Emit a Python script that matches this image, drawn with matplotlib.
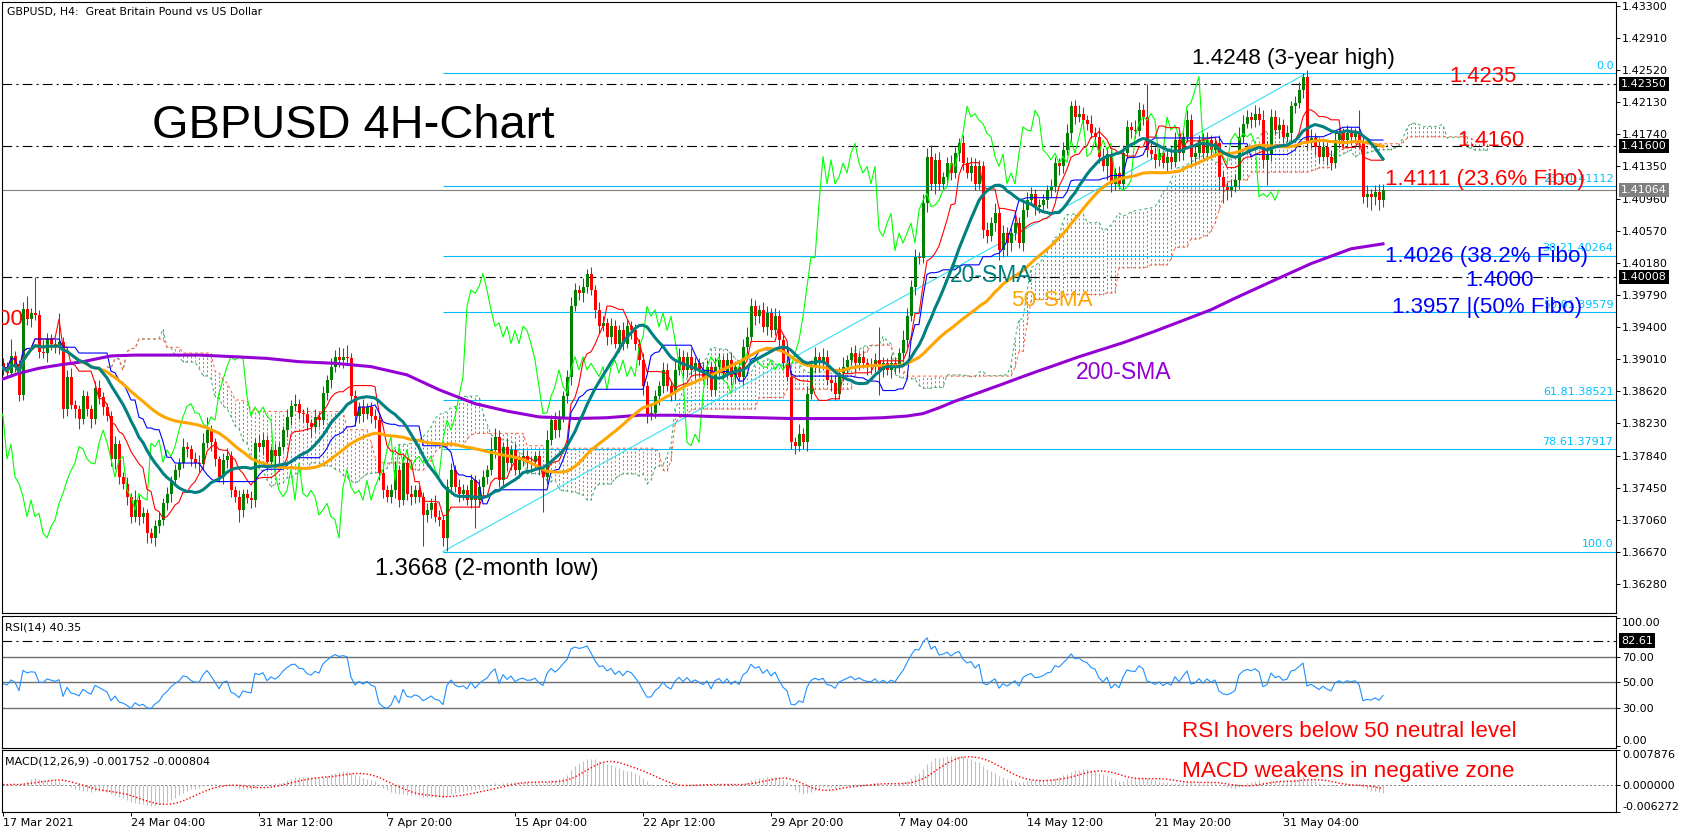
import numpy as np
import pandas as pd
import matplotlib
matplotlib.use("Agg")
import matplotlib.pyplot as plt
from matplotlib import transforms

plt.rcParams['lines.scale_dashes'] = False
plt.rcParams['font.family'] = ['DejaVu Sans']

W, H = 1686, 836

# ---------------- data (H4 bars, prices in pips above 1.3000) ----------------
first_open = 896
close_pips = [
    890, 884, 905, 895, 858, 962, 950, 957, 955, 910,
    908, 925, 920, 915, 922, 840, 880, 846, 840, 828,
    856, 840, 828, 866, 855, 843, 832, 780, 798, 758,
    750, 734, 710, 730, 710, 714, 690, 684, 698, 706,
    726, 738, 754, 766, 775, 795, 792, 780, 775, 774,
    799, 815, 800, 780, 758, 779, 783, 742, 734, 718,
    738, 733, 730, 799, 795, 803, 776, 791, 783, 795,
    815, 831, 844, 847, 836, 835, 823, 819, 831, 827,
    860, 876, 892, 904, 900, 904, 902, 856, 832, 843,
    835, 843, 832, 827, 763, 742, 734, 742, 767, 730,
    775, 738, 734, 742, 734, 712, 718, 726, 710, 706,
    684, 746, 767, 746, 738, 742, 730, 754, 730, 746,
    758, 767, 791, 807, 754, 795, 775, 791, 767, 779,
    783, 775, 776, 783, 767, 758, 803, 827, 815, 831,
    856, 880, 965, 985, 981, 989, 1005, 985, 961, 941,
    945, 928, 941, 920, 936, 920, 941, 936, 920, 900,
    868, 835, 836, 856, 868, 888, 868, 860, 888, 904,
    888, 904, 888, 896, 888, 880, 892, 864, 892, 900,
    884, 900, 880, 892, 880, 916, 928, 965, 953, 961,
    940, 957, 936, 953, 924, 896, 880, 800, 796, 810,
    800, 859, 892, 904, 896, 904, 876, 872, 859, 884,
    892, 900, 908, 896, 904, 896, 892, 891, 900, 888,
    896, 888, 896, 892, 908, 924, 953, 989, 1025, 1024,
    1090, 1147, 1114, 1143, 1114, 1122, 1139, 1127, 1151, 1163,
    1139, 1127, 1135, 1114, 1135, 1058, 1050, 1066, 1078, 1033,
    1054, 1042, 1054, 1066, 1042, 1082, 1094, 1102, 1086, 1088,
    1094, 1106, 1110, 1139, 1135, 1155, 1175, 1208, 1195, 1199,
    1191, 1187, 1175, 1171, 1147, 1135, 1150, 1114, 1127, 1114,
    1151, 1183, 1179, 1178, 1203, 1195, 1155, 1150, 1143, 1151,
    1139, 1147, 1140, 1167, 1151, 1171, 1191, 1147, 1151, 1167,
    1151, 1167, 1155, 1163, 1122, 1110, 1106, 1110, 1118, 1171,
    1187, 1195, 1191, 1199, 1191, 1143, 1150, 1195, 1179, 1185,
    1171, 1175, 1208, 1212, 1228, 1244, 1163, 1170, 1159, 1147,
    1159, 1147, 1139, 1167, 1175, 1167, 1175, 1171, 1175, 1163,
    1098, 1102, 1098, 1104, 1094, 1106,
]
up_wick = [
    6, 8, 20, 6, 5, 8, 16, 6, 44, 6,
    14, 8, 6, 5, 35, 6, 8, 10, 6, 5,
    8, 6, 5, 8, 10, 6, 5, 6, 10, 5,
    6, 8, 5, 12, 6, 8, 5, 6, 8, 10,
    6, 8, 5, 8, 6, 10, 6, 5, 8, 10,
    12, 16, 6, 5, 4, 8, 10, 6, 5, 8,
    6, 5, 8, 6, 10, 8, 6, 5, 8, 6,
    5, 10, 8, 12, 6, 5, 8, 6, 10, 6,
    8, 6, 10, 8, 12, 10, 14, 6, 8, 6,
    10, 5, 6, 8, 6, 5, 6, 8, 10, 6,
    8, 6, 10, 6, 5, 6, 8, 6, 10, 8,
    6, 10, 8, 6, 10, 8, 6, 8, 6, 10,
    8, 6, 16, 10, 8, 6, 10, 6, 8, 6,
    10, 8, 6, 5, 8, 6, 12, 6, 10, 8,
    6, 8, 12, 8, 6, 10, 5, 8, 6, 10,
    8, 6, 10, 8, 6, 10, 8, 6, 8, 6,
    8, 6, 10, 8, 6, 10, 8, 6, 12, 10,
    8, 6, 10, 8, 6, 10, 8, 6, 10, 8,
    6, 8, 10, 6, 8, 10, 12, 10, 8, 6,
    10, 8, 6, 10, 8, 6, 10, 8, 6, 12,
    8, 10, 8, 12, 6, 10, 8, 6, 10, 8,
    12, 6, 8, 10, 6, 8, 6, 10, 8, 40,
    8, 6, 10, 8, 6, 12, 10, 8, 10, 6,
    12, 10, 14, 8, 10, 6, 8, 10, 8, 6,
    10, 8, 12, 10, 8, 6, 10, 8, 12, 8,
    10, 8, 6, 10, 8, 12, 10, 8, 6, 8,
    8, 6, 10, 8, 6, 10, 12, 6, 8, 10,
    8, 6, 10, 8, 12, 10, 8, 10, 6, 8,
    10, 8, 6, 12, 10, 8, 40, 10, 8, 6,
    10, 8, 12, 10, 8, 10, 12, 8, 10, 6,
    8, 10, 6, 8, 10, 8, 6, 10, 8, 12,
    10, 8, 6, 10, 8, 12, 16, 10, 8, 10,
    8, 10, 6, 8, 10, 4, 8, 10, 6, 8,
    10, 6, 8, 10, 8, 6, 10, 8, 6, 28,
    8, 10, 6, 8, 10, 8,
]
down_wick = [
    8, 6, 5, 10, 8, 6, 8, 10, 6, 8,
    6, 10, 8, 6, 8, 10, 8, 6, 10, 12,
    6, 8, 10, 6, 8, 10, 6, 8, 12, 8,
    6, 10, 8, 6, 10, 8, 12, 6, 10, 8,
    6, 8, 10, 6, 8, 6, 10, 8, 6, 10,
    8, 6, 10, 8, 6, 8, 10, 8, 6, 14,
    8, 6, 10, 8, 6, 10, 8, 6, 10, 8,
    6, 8, 10, 6, 8, 10, 8, 12, 6, 8,
    6, 8, 10, 6, 8, 10, 6, 8, 12, 8,
    10, 6, 8, 10, 8, 10, 6, 8, 10, 8,
    6, 8, 10, 8, 6, 38, 8, 10, 6, 8,
    10, 16, 8, 6, 10, 8, 6, 10, 34, 8,
    10, 8, 6, 10, 8, 6, 10, 8, 6, 10,
    8, 6, 10, 8, 6, 42, 8, 6, 10, 8,
    6, 8, 10, 6, 8, 10, 8, 6, 10, 8,
    6, 10, 8, 6, 10, 8, 6, 10, 8, 6,
    10, 12, 8, 6, 10, 8, 6, 10, 8, 6,
    10, 8, 6, 10, 8, 6, 10, 8, 6, 10,
    8, 6, 10, 8, 6, 10, 8, 6, 10, 8,
    6, 10, 8, 6, 10, 8, 6, 8, 10, 6,
    8, 10, 6, 8, 10, 8, 6, 10, 8, 6,
    10, 8, 6, 10, 8, 6, 10, 8, 6, 30,
    8, 6, 10, 8, 6, 10, 8, 6, 10, 8,
    6, 10, 8, 12, 8, 6, 10, 8, 6, 10,
    8, 6, 10, 8, 6, 10, 8, 6, 10, 12,
    8, 16, 10, 8, 6, 10, 8, 6, 10, 8,
    6, 10, 8, 6, 10, 8, 6, 10, 8, 6,
    10, 8, 6, 10, 8, 6, 16, 10, 8, 6,
    8, 6, 10, 8, 6, 10, 8, 6, 10, 8,
    6, 10, 8, 6, 10, 8, 6, 10, 8, 6,
    8, 6, 10, 8, 16, 20, 12, 8, 6, 10,
    8, 6, 10, 8, 6, 10, 30, 8, 6, 10,
    8, 6, 10, 8, 6, 10, 8, 6, 10, 8,
    6, 10, 8, 6, 10, 8, 6, 10, 8, 6,
    8, 12, 16, 10, 12, 8,
]

# 200-SMA at these bars
sma200_bars = [0, 4, 9, 14, 20, 27, 33, 41, 49, 58, 66, 74, 83, 92, 101, 109, 118, 126, 134, 143,
               151, 159, 168, 180, 197, 213, 220, 226, 230, 234, 238, 242, 246, 250,
               255, 259, 262, 269, 280, 288, 295, 302, 308, 317, 327, 337, 345]
sma200_pips = [877, 884, 890, 894, 898, 905, 906, 906, 906, 904, 902, 898, 896, 892, 882, 864, 847, 838, 831, 829,
               830, 833, 833, 831, 829, 829, 830, 832, 835, 842, 850, 857, 864, 871,
               880, 887, 892, 904, 921, 935, 948, 961, 975, 995, 1017, 1035, 1041]

date_labels = ["17 Mar 2021", "24 Mar 04:00", "31 Mar 12:00", "7 Apr 20:00", "15 Apr 04:00", "22 Apr 12:00",
               "29 Apr 20:00", "7 May 04:00", "14 May 12:00", "21 May 20:00", "31 May 04:00"]
date_bars = [0, 32, 64, 96, 128, 160, 192, 224, 256, 288, 320]

price_ticks = [1.43300, 1.42910, 1.42520, 1.42130, 1.41740, 1.41350, 1.40960, 1.40570, 1.40180, 1.39790,
               1.39400, 1.39010, 1.38620, 1.38230, 1.37840, 1.37450, 1.37060, 1.36670, 1.36280]
level_lines = [1.42350, 1.41600, 1.40008]
last_price = 1.41064

fib_names = ["0.0", "23.6", "38.2", "50.0", "61.8", "78.6", "100.0"]
fib_prices = [1.42483, 1.41112, 1.40264, 1.39579, 1.38521, 1.37917, 1.36675]
fib_low_bar, fib_high_bar = 110, 326

rsi_ticks = [100, 70, 50, 30, 0]
rsi_mark = 82.61
rsi_seed = 0.0011   # average bar move assumed before the first visible bar
macd_ticks = [0.007876, 0.0, -0.006272]

# ---------------- indicators ----------------
c = 1.3 + np.array(close_pips) / 10000
o = np.r_[1.3 + first_open / 10000, c[:-1]]
hi = np.maximum(o, c) + np.array(up_wick) / 10000
lo = np.minimum(o, c) - np.array(down_wick) / 10000
n = len(c)
x = np.arange(n)

cs, hs, ls_ = pd.Series(c), pd.Series(hi), pd.Series(lo)
sma20 = cs.rolling(20, min_periods=1).mean()
sma50 = cs.rolling(50, min_periods=1).mean()
tenkan = (hs.rolling(9, min_periods=1).max() + ls_.rolling(9, min_periods=1).min()) / 2
kijun = (hs.rolling(26, min_periods=1).max() + ls_.rolling(26, min_periods=1).min()) / 2
span_a = ((tenkan + kijun) / 2).values
span_b = ((hs.rolling(52, min_periods=1).max() + ls_.rolling(52, min_periods=1).min()) / 2).values

# Wilder RSI(14)
moves = np.diff(np.r_[o[0], c])
avg_up, avg_dn = rsi_seed, rsi_seed
rsi = []
for m in moves:
    avg_up = (avg_up * 13 + max(m, 0)) / 14
    avg_dn = (avg_dn * 13 + max(-m, 0)) / 14
    rsi.append(100 - 100 / (1 + avg_up / avg_dn))

macd = cs.ewm(span=12, adjust=False).mean() - cs.ewm(span=26, adjust=False).mean()
signal = macd.rolling(9, min_periods=1).mean()

# ---------------- figure ----------------
fig = plt.figure(figsize=(W / 100, H / 100), dpi=100)


def panel(top, bottom):
    return fig.add_axes([2 / W, 1 - bottom / H, 1614 / W, (bottom - top) / H])


ax = panel(2, 613)
ax_rsi = panel(616, 748)
ax_macd = panel(750, 812)
for a in (ax, ax_rsi, ax_macd):
    a.set_xlim(-0.25, 403.25)
    a.yaxis.tick_right()
    a.tick_params(axis='y', direction='out', length=3, width=0.7, pad=1.5, labelsize=8)
    a.tick_params(axis='x', bottom=False, labelbottom=False)
    for sp in a.spines.values():
        sp.set_linewidth(0.8)

dashdot = (0, (7, 3, 1.5, 3))

# main chart
ax.set_ylim(1.35930, 1.43345)

xs = x + 26
bull = span_a >= span_b
ax.vlines(xs[bull], span_b[bull], span_a[bull], colors='#3CB371', lw=0.75,
          linestyles=[(0, (1.5, 1.5))], zorder=1)
ax.vlines(xs[~bull], span_a[~bull], span_b[~bull], colors='#FF6347', lw=0.75,
          linestyles=[(0, (1.5, 1.5))], zorder=1)
ax.plot(xs, span_a, color='#3CB371', lw=0.75, ls=(0, (2, 2)), zorder=1.2)
ax.plot(xs, span_b, color='#FF6347', lw=0.75, ls=(0, (2, 2)), zorder=1.2)

for lvl in level_lines:
    ax.axhline(lvl, color='black', lw=0.8, ls=dashdot, zorder=1.5)
ax.axhline(last_price, color='#808080', lw=0.8, zorder=1.5)

ax.hlines(fib_prices, fib_low_bar, 403.25, colors='#00BFFF', lw=0.8, zorder=1.6)
ax.plot([fib_low_bar, fib_high_bar], [fib_prices[-1], fib_prices[0]], color='#33E0F5', lw=0.8, zorder=1.6)
for name, p in zip(fib_names, fib_prices):
    lab = name if name in ("0.0", "100.0") else f"{name}{p:.5f}"
    ax.text(402.6, p + 0.0003, lab, ha='right', va='bottom', color='#00BFFF', fontsize=8, zorder=1.7)

colors = np.where(c >= o, '#008000', '#FF0000')
ax.vlines(x, lo, hi, colors=colors, lw=0.75, zorder=2)
ax.bar(x, np.maximum(np.abs(c - o), 0.00012), bottom=np.minimum(o, c), width=0.75,
       color=colors, lw=0, zorder=2.1)

ax.plot(x - 26, c, color='#00FF00', lw=0.8, zorder=3)
ax.plot(x, tenkan, color='#FF0000', lw=0.8, zorder=3)
ax.plot(x, kijun, color='#0000FF', lw=0.8, zorder=3)
ax.plot(sma200_bars, 1.3 + np.array(sma200_pips) / 10000, color='#9400D3', lw=2.2, zorder=4,
        solid_joinstyle='round')
ax.plot(x, sma50, color='#FFA500', lw=2.2, zorder=4)
ax.plot(x, sma20, color='#008080', lw=2.2, zorder=4)

ax.set_yticks(price_ticks)
ax.set_yticklabels([f"{t:.5f}" for t in price_ticks])

trans = transforms.blended_transform_factory(ax.transAxes, ax.transData)
for lvl, fc in [(level_lines[0], 'black'), (level_lines[1], 'black'), (last_price, '#808080'),
                (level_lines[2], 'black')]:
    ax.text(1.0 + 5 / 1614, lvl, f"{lvl:.5f}", transform=trans, ha='left', va='center', color='white',
            fontsize=8, bbox=dict(boxstyle='square,pad=0.2', fc=fc, ec='none'), zorder=10, clip_on=False)

# clipped leftover label at the left edge
ax.text(5, 1.39425, "1.4000", ha='right', va='baseline', color='#FF0000', fontsize=16.2,
        family='Liberation Sans', clip_on=True, zorder=5)

# RSI panel
ax_rsi.set_ylim(-1.3, 101.8)
for lv in (70, 50, 30):
    ax_rsi.axhline(lv, color='#707070', lw=1.0, zorder=1)
ax_rsi.axhline(rsi_mark, color='black', lw=0.8, ls=dashdot, zorder=1)
ax_rsi.plot(x, rsi, color='#1E90FF', lw=0.8, zorder=2)
ax_rsi.set_yticks(rsi_ticks)
ax_rsi.set_yticklabels([f"{v:.2f}" for v in rsi_ticks])
rl = ax_rsi.get_yticklabels()
rl[0].set_va('top')
rl[-1].set_va('bottom')
trans_r = transforms.blended_transform_factory(ax_rsi.transAxes, ax_rsi.transData)
ax_rsi.text(1.0 + 5 / 1614, rsi_mark, f"{rsi_mark:.2f}", transform=trans_r, ha='left', va='center',
            color='white', fontsize=8, bbox=dict(boxstyle='square,pad=0.2', fc='black', ec='none'),
            zorder=10, clip_on=False)

# MACD panel
ax_macd.set_ylim(macd_ticks[-1], macd_ticks[0])
ax_macd.axhline(0, color='#808080', lw=0.7, ls=(0, (1.5, 1.5)), zorder=1)
ax_macd.vlines(x, 0, macd, colors='#C0C0C0', lw=0.8, zorder=2)
ax_macd.plot(x, signal, color='#FF0000', lw=1.0, ls=(0, (1, 1.5)), zorder=3)
ax_macd.set_yticks(macd_ticks)
ax_macd.set_yticklabels([f"{v:.6f}" for v in macd_ticks])
ml = ax_macd.get_yticklabels()
ml[0].set_va('top')
ml[-1].set_va('bottom')
ax_macd.set_xticks(date_bars)
ax_macd.set_xticklabels(date_labels)
ax_macd.tick_params(axis='x', bottom=True, labelbottom=True, direction='out', length=3, width=0.7,
                    pad=1.5, labelsize=8)
for t in ax_macd.get_xticklabels():
    t.set_ha('left')


# ---------------- texts ----------------
def note(px, py, s, color, size, **kw):
    fig.text(px / W, 1 - py / H, s, color=color, fontsize=size, family='Liberation Sans',
             ha='left', va='baseline', zorder=20, **kw)


red, blue = '#FF0000', '#0000FF'
note(152, 138, "GBPUSD 4H-Chart", 'black', 33.8)
note(1192, 64, "1.4248 (3-year high)", 'black', 16.2)
note(1449, 82, "1.4235", red, 15.8)
note(1457, 146, "1.4160", red, 15.8)
note(1385, 185, "1.4111 (23.6% Fibo)", red, 16.1)
note(1385, 262, "1.4026 (38.2% Fibo)", blue, 16.1)
note(1465, 286, "1.4000", blue, 16.1)
note(1392, 313, "1.3957 |(50% Fibo)", blue, 16.1)
note(950, 282, "20-SMA", '#008080', 16.5)
note(1011, 306, "50-SMA", '#FFA500', 16.2)
note(1076, 379, "200-SMA", '#9400D3', 16.6)
note(375, 575, "1.3668 (2-month low)", 'black', 17)
note(1182, 737, "RSI hovers below 50 neutral level", red, 16.1)
note(1182, 777, "MACD weakens in negative zone", red, 16.2)

fig.text(7 / W, 1 - 12 / H, "GBPUSD, H4:  Great Britain Pound vs US Dollar", fontsize=7.8, va='center')
fig.text(5 / W, 1 - 628 / H, "RSI(14) 40.35", fontsize=8, va='center')
fig.text(5 / W, 1 - 762 / H, "MACD(12,26,9) -0.001752 -0.000804", fontsize=8, va='center')

fig.savefig("out.png", dpi=100)
